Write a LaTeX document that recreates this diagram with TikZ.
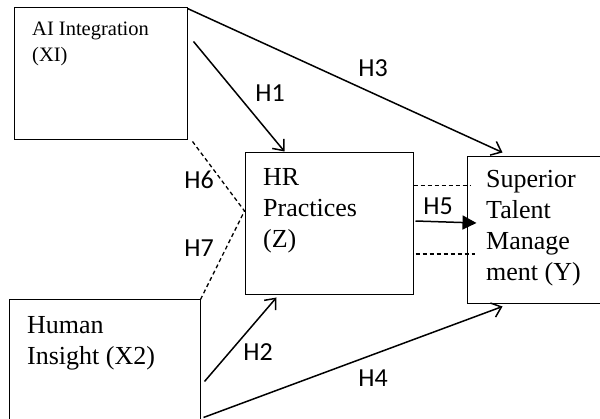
\documentclass[tikz,border=0pt]{standalone}
\usepackage{fontspec}
\setmainfont{Liberation Serif}
\newfontfamily\labelfont{Carlito}
\usetikzlibrary{arrows.meta}

\begin{document}
\begin{tikzpicture}[x=1pt,y=-1pt,
        box/.style={draw,line width=1pt,inner sep=0pt},
        boxtext/.style={anchor=base west,align=left,inner sep=0pt,font=\fontsize{26}{31}\selectfont},
        hyp/.style={inner sep=0pt,font=\labelfont\fontsize{26}{31}\selectfont},
        link/.style={-{Straight Barb[length=9pt,width=15pt]},line width=1.5pt},
        corr/.style={dash pattern=on 4pt off 3pt,line width=1.3pt}]
        \clip (0,0) rectangle (600,419);
        %Boxes
            \node[box,minimum width=173pt,minimum height=132pt] (ai) at (100.5,74) {};
            \node[box,minimum width=168pt,minimum height=142pt] (hr) at (329,224) {};
            \node[box,minimum width=138pt,minimum height=147pt] (sup) at (536,230.5) {};
            \node[box,minimum width=191pt,minimum height=130pt] (hum) at (104.5,365) {};
        %Box texts (anchored at the last line)
            \node[boxtext,font=\fontsize{20.5}{26}\selectfont] (aitext) at (32,62) {AI Integration\\(XI)};
            \node[boxtext] (hrtext) at (263,248) {HR\\Practices\\(Z)};
            \node[boxtext] (suptext) at (486,281) {Superior\\Talent\\Manage\\ment (Y)};
            \node[boxtext] (humtext) at (27,365) {Human\\Insight (X2)};
        %Direct paths
            \draw[link] ([shift={(6,34)}]ai.north east) -- ([shift={(40,-1)}]hr.north west);
            \draw[link] ([shift={(0,1)}]ai.north east) -- ([shift={(36,-4)}]sup.north west);
            \draw[link] ([shift={(4,82)}]hum.north east) -- ([shift={(32,2)}]hr.south west);
            \draw[link] ([shift={(3,118)}]hum.north east) -- ([shift={(36,2)}]sup.south west);
        %Mediation
            \draw[-{Triangle[length=14pt,width=14pt]},line width=1.5pt] ([shift={(2,-3)}]hr.east) -- ([shift={(10,-7.5)}]sup.west);
            \draw[corr] ([shift={(0,33)}]hr.north east) -- ([shift={(4,29)}]sup.north west);
            \draw[corr] ([shift={(2,30)}]hr.east) -- ([shift={(8,23.5)}]sup.west);
            \draw[corr] ([shift={(5,1)}]ai.south east) -- ([shift={(0,-13)}]hr.west);
            \draw[corr] (hum.north east) -- ([shift={(0,-13)}]hr.west);
        %Labels
            \node[hyp] (h1) at (270,93) {H1};
            \node[hyp] (h2) at (258,352) {H2};
            \node[hyp] (h3) at (373,68) {H3};
            \node[hyp] (h4) at (373,378) {H4};
            \node[hyp] (h5) at (438,206) {H5};
            \node[hyp] (h6) at (199,180) {H6};
            \node[hyp] (h7) at (199,248) {H7};
\end{tikzpicture}
\end{document}
